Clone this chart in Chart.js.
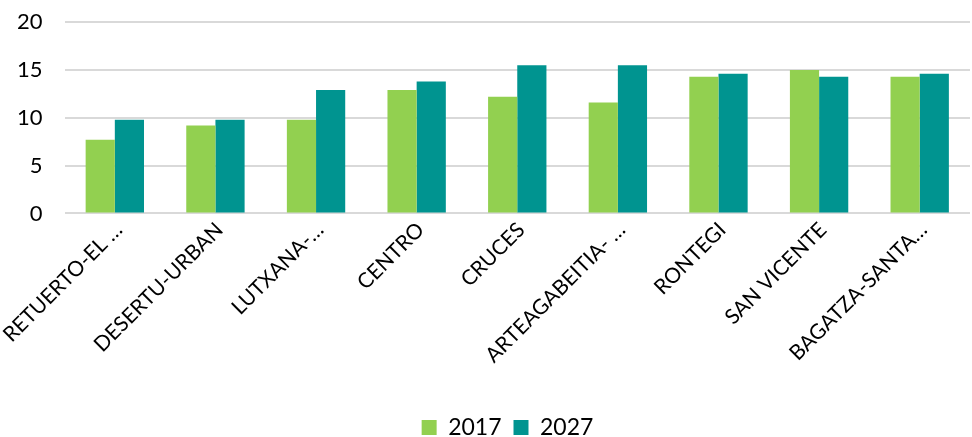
<!DOCTYPE html>
<html>
<head>
<meta charset="utf-8">
<script src="https://cdn.jsdelivr.net/npm/chart.js@4"></script>
<style>
  html, body { margin: 0; padding: 0; background: #fff; }
  #frame { position: relative; width: 972px; height: 437px; overflow: hidden; }
  #wrap { position: absolute; left: -5px; top: -13px; width: 977px; height: 462px; }
</style>
</head>
<body>
<div id="frame"><div id="wrap"><canvas id="chart"></canvas></div></div>
<script>
// zones and their values
const categories = ['RETUERTO-EL …', 'DESERTU-URBAN', 'LUTXANA-…', 'CENTRO', 'CRUCES',
  'ARTEAGABEITIA- …', 'RONTEGI', 'SAN VICENTE', 'BAGATZA-SANTA…'];
const values2017 = [7.7, 9.2, 9.8, 12.9, 12.2, 11.6, 14.3, 15.0, 14.3];
const values2027 = [9.8, 9.8, 12.9, 13.8, 15.5, 15.5, 14.6, 14.3, 14.6];
const yTicks = [0, 5, 10, 15, 20];

const font = 'Lato, "Open Sans", sans-serif';

// legend sits a bit right of centre in the original
const legendShift = {
  id: 'legendShift',
  afterLayout(chart) {
    chart.legend.left += 25;
    chart.legend.right += 25;
  }
};

new Chart(document.getElementById('chart'), {
  type: 'bar',
  data: {
    labels: categories,
    datasets: [{
      label: '2017',
      data: values2017,
      backgroundColor: '#92D050'
    }, {
      label: '2027',
      data: values2027,
      backgroundColor: '#009490'
    }]
  },
  plugins: [legendShift],
  options: {
    responsive: true,
    maintainAspectRatio: false,
    animation: false,
    layout: { padding: { top: 0, right: 2, left: 0, bottom: 0 } },
    datasets: {
      bar: { categoryPercentage: 0.58, barPercentage: 1.0 }
    },
    plugins: {
      legend: {
        position: 'bottom',
        title: { display: true, text: ' ', font: { size: 10 }, padding: { top: 0, bottom: 20 } },
        labels: {
          color: '#000',
          boxWidth: 15,
          boxHeight: 15,
          padding: 12,
          font: { family: font, size: 23 }
        }
      },
      tooltip: { enabled: false }
    },
    scales: {
      x: {
        grid: { display: false, drawTicks: false },
        border: { display: false },
        ticks: {
          color: '#000',
          minRotation: 45,
          maxRotation: 45,
          autoSkip: false,
          padding: 4,
          labelOffset: 4,
          font: { family: font, size: 21 }
        }
      },
      y: {
        min: 0,
        max: 20,
        afterBuildTicks: (axis) => { axis.ticks = yTicks.map(v => ({ value: v })); },
        grid: { color: '#D9D9D9', lineWidth: 2, drawTicks: false },
        border: { display: false },
        ticks: {
          color: '#000',
          padding: 22,
          font: { family: font, size: 22 }
        }
      }
    }
  }
});
</script>
</body>
</html>
